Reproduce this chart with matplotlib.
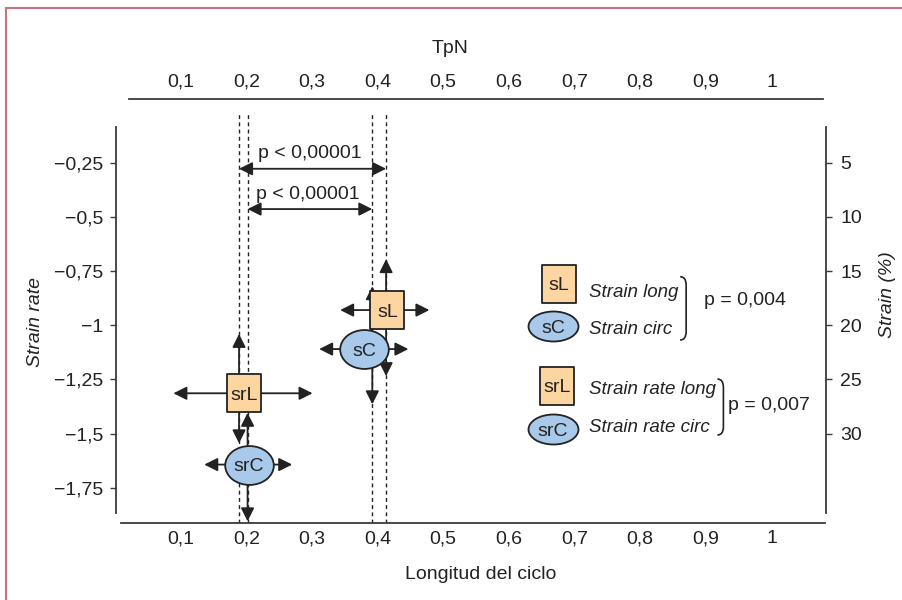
import matplotlib
matplotlib.use('Agg')
import matplotlib.pyplot as plt
from matplotlib.path import Path
from matplotlib.patches import PathPatch
from matplotlib.lines import Line2D
from matplotlib.ticker import FuncFormatter

# --- datos ---
names = ['srL', 'srC', 'sL', 'sC']

# TpN (longitud del ciclo): media, centro del simbolo y extremos de la DE
tpn_mean = [0.189, 0.202, 0.413, 0.392]
tpn_box = [0.196, 0.204, 0.415, 0.380]
tpn_lo = [0.089, 0.136, 0.343, 0.311]
tpn_hi = [0.301, 0.270, 0.479, 0.447]

# strain rate (eje izquierdo) para srL, srC
strain_rate = [-1.314, -1.643]
strain_rate_lo = [-1.545, -1.905]
strain_rate_hi = [-1.040, -1.404]

# strain % (eje derecho) para sL, sC
strain = [18.6, 22.2]
strain_min = [13.9, 16.4]
strain_max = [24.7, 27.3]

x_ticks = [0.1, 0.2, 0.3, 0.4, 0.5, 0.6, 0.7, 0.8, 0.9, 1]
y_ticks = [-0.25, -0.5, -0.75, -1, -1.25, -1.5, -1.75]
strain_ticks = [5, 10, 15, 20, 25, 30]

# comparaciones (indice a, indice b, texto)
comparisons = [(0, 2, 'p < 0,00001'), (1, 3, 'p < 0,00001')]
comparison_rows = [-0.278, -0.464]

legend_names = ['sL', 'sC', 'srL', 'srC']
legend_texts = ['Strain long', 'Strain circ', 'Strain rate long', 'Strain rate circ']
legend_p = ['p = 0,004', 'p = 0,007']

plt.rcParams['font.family'] = ['Liberation Sans', 'DejaVu Sans']
plt.rcParams['font.size'] = 14

INK = '#222222'
AXIS = '#3a3a3a'
ORANGE = '#fcd5a0'
BLUE = '#a8c9e9'
FRAME = '#c9737f'


def comma(v, pos=None):
    return f'{v:g}'.replace('.', ',').replace('-', '\u2212')


def to_left(s):
    return -s / 20.0


def box_path(aspect):
    w = aspect / 2
    return Path([(-w, -0.5), (w, -0.5), (w, 0.5), (-w, 0.5), (-w, -0.5)],
                [Path.MOVETO, Path.LINETO, Path.LINETO, Path.LINETO, Path.CLOSEPOLY])


def ellipse_path(aspect):
    c = Path.unit_circle()
    return Path(c.vertices * [1, aspect], c.codes)


def arrow(ax, start, end, style='-|>', **kw):
    ax.annotate('', xy=end, xytext=start,
                arrowprops=dict(arrowstyle=style, color=INK, lw=1.3,
                                shrinkA=0, shrinkB=0, mutation_scale=20),
                zorder=2, **kw)


def bracket(ax, x0, x1, ytop, ybot, r):
    verts = [(x0, ytop), (x1, ytop), (x1, ytop - r), (x1, ybot + r),
             (x1, ybot), (x0, ybot)]
    codes = [Path.MOVETO, Path.CURVE3, Path.CURVE3, Path.LINETO,
             Path.CURVE3, Path.CURVE3]
    ax.add_patch(PathPatch(Path(verts, codes), fill=False, ec=INK, lw=1.2,
                           transform=ax.transAxes, clip_on=False))


fig = plt.figure(figsize=(9.02, 6.0), dpi=100)
ax = fig.add_axes([0.1289, 0.1288, 0.7868, 0.7067])
ax.set_xlim(0.002, 1.083)
ax.set_ylim(-1.9113, 0.0453)

y_val = strain_rate + [to_left(s) for s in strain]
y_lo = strain_rate_lo + [to_left(s) for s in strain_max]
y_hi = strain_rate_hi + [to_left(s) for s in strain_min]

# lineas discontinuas de TpN medio
for x in tpn_mean:
    ax.axvline(x, ymin=0, ymax=0.964, color=INK, lw=1.0,
               ls=(0, (2.8, 2.4)), zorder=1)

# flechas de desviacion
for i in range(len(names)):
    arrow(ax, (tpn_box[i], y_val[i]), (tpn_lo[i], y_val[i]))
    arrow(ax, (tpn_box[i], y_val[i]), (tpn_hi[i], y_val[i]))
    arrow(ax, (tpn_mean[i], y_val[i]), (tpn_mean[i], y_hi[i]))
    arrow(ax, (tpn_mean[i], y_val[i]), (tpn_mean[i], y_lo[i]))

box_m = box_path(0.9)
ell_m = ellipse_path(0.8)
for i, name in enumerate(names):
    is_box = name.endswith('L')
    ax.plot(tpn_box[i], y_val[i], ls='none',
            marker=box_m if is_box else ell_m,
            ms=27 if is_box else 35,
            mfc=ORANGE if is_box else BLUE, mec=INK, mew=1.3, zorder=3)
    ax.text(tpn_box[i], y_val[i], name, ha='center', va='center_baseline',
            color=INK, zorder=4)

# comparaciones de TpN
for (a, b, label), row in zip(comparisons, comparison_rows):
    arrow(ax, (tpn_mean[a], row), (tpn_mean[b], row), style='<|-|>')
    ax.text((tpn_mean[a] + tpn_mean[b]) / 2 - 0.004, row + 0.03, label,
            ha='center', va='bottom', color=INK)

# leyenda
leg_x = [0.6234, 0.6153, 0.6208, 0.6153]
leg_y = [0.5634, 0.4639, 0.3236, 0.2210]
text_y = [0.5488, 0.4608, 0.3193, 0.2288]
for name, txt, lx, ly, ty in zip(legend_names, legend_texts, leg_x, leg_y, text_y):
    is_box = name.endswith('L')
    ax.plot(lx, ly, ls='none', transform=ax.transAxes, clip_on=False,
            marker=box_m if is_box else ellipse_path(0.6),
            ms=27 if is_box else 36,
            mfc=ORANGE if is_box else BLUE, mec=INK, mew=1.3, zorder=3)
    ax.text(lx, ly, name, transform=ax.transAxes, ha='center',
            va='center_baseline', color=INK, zorder=4)
    ax.text(0.6667, ty, txt, transform=ax.transAxes, ha='left',
            va='center_baseline', style='italic', color=INK, fontsize=13.5)

bracket(ax, 0.7945, 0.8030, 0.5802, 0.4309, 0.02)
bracket(ax, 0.8470, 0.8555, 0.3389, 0.2068, 0.02)
ax.text(0.8859, 0.5292, legend_p[0], transform=ax.transAxes, ha='center',
        va='center_baseline', color=INK)
ax.text(0.9197, 0.2800, legend_p[1], transform=ax.transAxes, ha='center',
        va='center_baseline', color=INK)

# ejes
for side in ['top', 'right']:
    ax.spines[side].set_visible(False)
ax.spines['left'].set_bounds(-1.8665, -0.083)
ax.spines['bottom'].set_bounds(0.009, 1.081)
for side in ['left', 'bottom']:
    ax.spines[side].set_linewidth(1.3)
    ax.spines[side].set_color(AXIS)

ax.set_xticks(x_ticks)
ax.set_yticks(y_ticks)
ax.xaxis.set_major_formatter(FuncFormatter(comma))
ax.yaxis.set_major_formatter(FuncFormatter(comma))
ax.tick_params(axis='x', length=0, pad=5.6, labelcolor=INK)
ax.tick_params(axis='y', length=4.5, width=1.0, pad=4.8, color=AXIS,
               labelcolor=INK)
ax.set_xlabel('Longitud del ciclo', color=INK)
ax.xaxis.set_label_coords(0.514, -0.102, transform=ax.transAxes)
ax.set_ylabel('Strain rate', style='italic', color=INK)
ax.yaxis.set_label_coords(-0.102, 0.473, transform=ax.transAxes)

top = ax.secondary_xaxis('top')
top.set_xticks(x_ticks)
top.xaxis.set_major_formatter(FuncFormatter(comma))
top.tick_params(length=0, pad=5.7, labelcolor=INK)
top.set_xlabel('TpN', color=INK)
top.xaxis.set_label_coords(0.470, 1.107, transform=ax.transAxes)
top.spines['top'].set_bounds(0.021, 1.078)
top.spines['top'].set_linewidth(1.3)
top.spines['top'].set_color(AXIS)

right = ax.secondary_yaxis('right', functions=(lambda y: -20 * y, lambda s: -s / 20))
right.set_yticks(strain_ticks)
right.yaxis.set_major_formatter(FuncFormatter(comma))
right.tick_params(length=4.2, width=1.0, pad=6, color=AXIS, labelcolor=INK)
right.set_ylabel('Strain (%)', style='italic', color=INK)
right.yaxis.set_label_coords(1.075, 0.537, transform=ax.transAxes)
right.spines['right'].set_bounds(1.7, 37.3)
right.spines['right'].set_linewidth(1.3)
right.spines['right'].set_color(AXIS)

# marco de la figura
fig.add_artist(Line2D([0.0063, 0.0063], [0.0, 0.9872], color=FRAME, lw=1.5,
                      transform=fig.transFigure))
fig.add_artist(Line2D([0.0063, 1.0], [0.9872, 0.9872], color=FRAME, lw=1.5,
                      transform=fig.transFigure))

fig.savefig('out.png', dpi=100)
